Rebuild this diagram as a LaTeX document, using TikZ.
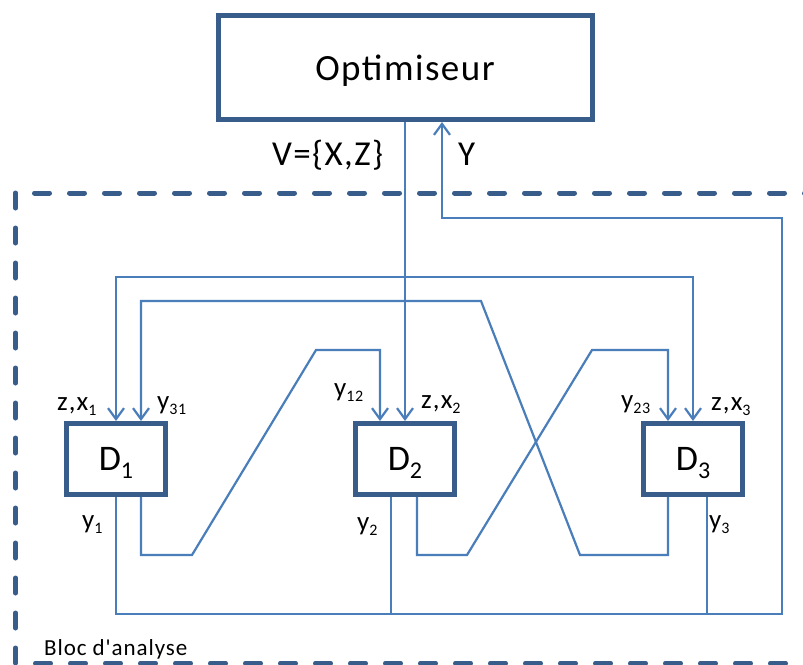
\documentclass[tikz,border=0pt]{standalone}
\usepackage{fontspec}
\setmainfont{Carlito}
\newfontfamily\wide[LetterSpace=4]{Carlito}
\usetikzlibrary{arrows.meta}
\definecolor{boxblue}{HTML}{385D8A}
\definecolor{linkblue}{HTML}{4A7EBB}
\newcommand\lsub[1]{\raisebox{-5.5pt}{\fontsize{16}{16}\selectfont #1}}
\newcommand\dsub[1]{\raisebox{-8pt}{\fontsize{24}{24}\selectfont #1}}
\tikzset{
  bigbox/.style={draw=boxblue, line width=5pt, inner sep=0pt, text depth=0pt,
    minimum width=374pt, minimum height=104pt, font=\wide\fontsize{37}{40}\selectfont},
  dbox/.style={draw=boxblue, line width=5pt, inner sep=0pt, text depth=0pt,
    minimum width=99pt, minimum height=71pt, font=\wide\fontsize{36}{40}\selectfont},
  link/.style={draw=linkblue, line width=2.2pt},
  arr/.style={-{Straight Barb[length=11pt,width=16pt]}},
  lbl/.style={inner sep=0pt, anchor=base west, font=\wide\fontsize{27}{30}\selectfont},
  biglbl/.style={inner sep=0pt, anchor=base west, font=\wide\fontsize{35}{40}\selectfont},
  bloc/.style={draw=boxblue, line width=5pt, dash pattern=on 15pt off 20pt, line cap=round}
}
\begin{document}
\begin{tikzpicture}[x=1pt,y=-1pt]
\useasboundingbox (0,0) rectangle (803,664);
\clip (0,0) rectangle (803,664);
\fill[white] (0,0) rectangle (803,664);
% dashed analysis block
\draw[bloc] (15.5,193) rectangle (840,663);
\node[inner sep=0pt, anchor=base west, font=\wide\fontsize{23}{26}\selectfont] (blocl) at (44,655) {Bloc d'analyse};
% boxes
\node[bigbox] (Opt) at (405,67.5) {Optimiseur};
\node[dbox] (D1) at (116,459) {D\dsub{1}};
\node[dbox] (D2) at (405,459) {D\dsub{2}};
\node[dbox] (D3) at (693,459) {D\dsub{3}};
% V = {X,Z}
\draw[link,arr] (Opt.south) -- (D2.north);
\coordinate (busTop) at (0,277);
\draw[link,{Straight Barb[length=11pt,width=16pt]}-{Straight Barb[length=11pt,width=16pt]}]
  (D1.north) -- (D1.north |- busTop) -- (D3.north |- busTop) -- (D3.north);
% y31
\draw[link,arr] ([xshift=-25pt]D3.south) |- (580,555) -- (481,301) -| ([xshift=25pt]D1.north);
% y12
\draw[link,arr] ([xshift=25pt]D1.south) |- (192,555) -- (316,350) -| ([xshift=-25pt]D2.north);
% y23
\draw[link,arr] ([xshift=12pt]D2.south) |- (467,555) -- (592,350) -| ([xshift=-25pt]D3.north);
% Y feedback
\draw[link,arr] (D1.south) |- (782,614) -- (782,218) -| ([xshift=37pt]Opt.south);
\draw[link] ([xshift=-14pt]D2.south) -- ++(0,117);
\draw[link] ([xshift=14pt]D3.south) -- ++(0,117);
% labels
\node[biglbl] (lV) at (272,165) {V=\{X,Z\}};
\node[biglbl] (lY) at (458,165) {Y};
\node[lbl] (lzx1) at (57,410) {z,x\lsub{1}};
\node[lbl] (ly31) at (157,409) {y\lsub{31}};
\node[lbl] (ly12) at (334,396) {y\lsub{12}};
\node[lbl] (lzx2) at (421,408) {z,x\lsub{2}};
\node[lbl] (ly23) at (621,408) {y\lsub{23}};
\node[lbl] (lzx3) at (711,410) {z,x\lsub{3}};
\node[lbl] (ly1) at (82,528) {y\lsub{1}};
\node[lbl] (ly2) at (357,530) {y\lsub{2}};
\node[lbl] (ly3) at (709,528) {y\lsub{3}};
\end{tikzpicture}
\end{document}
